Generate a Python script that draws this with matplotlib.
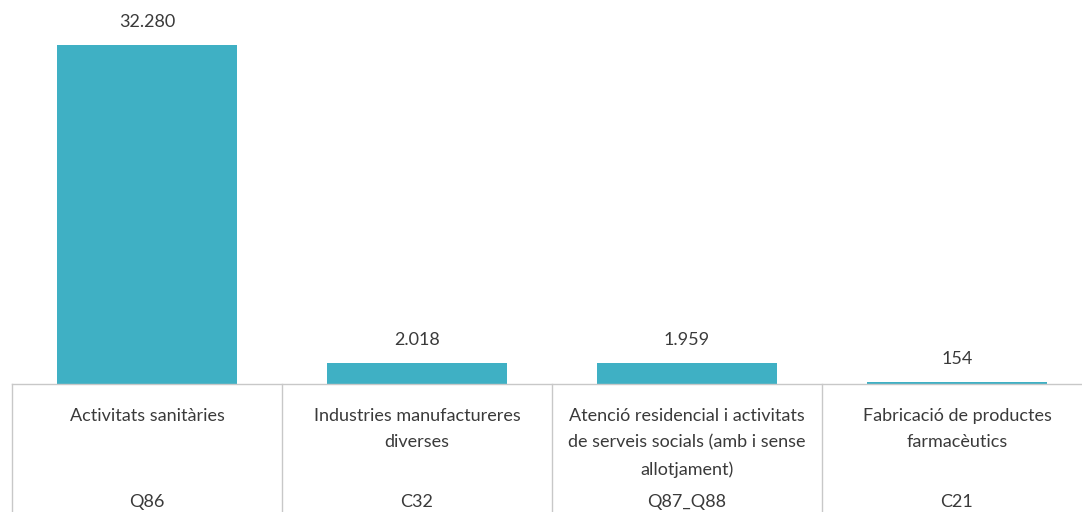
import matplotlib.pyplot as plt
import matplotlib.transforms as mtransforms

# Data
categories = ["Activitats sanitàries",
              "Industries manufactureres\ndiverses",
              "Atenció residencial i activitats\nde serveis socials (amb i sense\nallotjament)",
              "Fabricació de productes\nfarmacèutics"]
codes = ["Q86", "C32", "Q87_Q88", "C21"]
values = [32280, 2018, 1959, 154]
value_labels = ["32.280", "2.018", "1.959", "154"]

bar_color = "#3fb0c4"
grid_color = "#c8c8c8"
text_color = "#3a3a3a"

plt.rcParams["font.family"] = ["Lato", "DejaVu Sans"]

fig = plt.figure(figsize=(10.82, 5.12), dpi=100)
ax = fig.add_axes([12 / 1082, 128 / 512, 1070 / 1082, 384 / 512])

x = list(range(len(values)))
ax.bar(x, values, width=0.67, color=bar_color, zorder=2)

ax.set_xlim(-0.5, 3.463)
ax.set_ylim(0, 36565)

for xi, v, lab in zip(x, values, value_labels):
    ax.annotate(lab, (xi, v), xytext=(0, 11), textcoords="offset points",
                ha="center", va="bottom", fontsize=13, color=text_color)

for s in ["top", "right", "left"]:
    ax.spines[s].set_visible(False)
ax.spines["bottom"].set_color(grid_color)
ax.spines["bottom"].set_linewidth(1.0)
ax.set_xticks([])
ax.set_yticks([])

# table-style category area below the axis
trans = mtransforms.blended_transform_factory(ax.transData, ax.transAxes)
for b in [-0.5, 0.5, 1.5, 2.5, 3.5]:
    ax.plot([b, b], [0, -0.4], transform=trans, color=grid_color,
            linewidth=1.0, clip_on=False)

for xi, cat, code in zip(x, categories, codes):
    ax.text(xi, -0.062, cat, transform=trans, ha="center", va="top",
            fontsize=13, color=text_color, linespacing=1.82)
    ax.text(xi, -0.307, code, transform=trans, ha="center", va="center",
            fontsize=13, color=text_color)

fig.savefig("out.png", dpi=100)
